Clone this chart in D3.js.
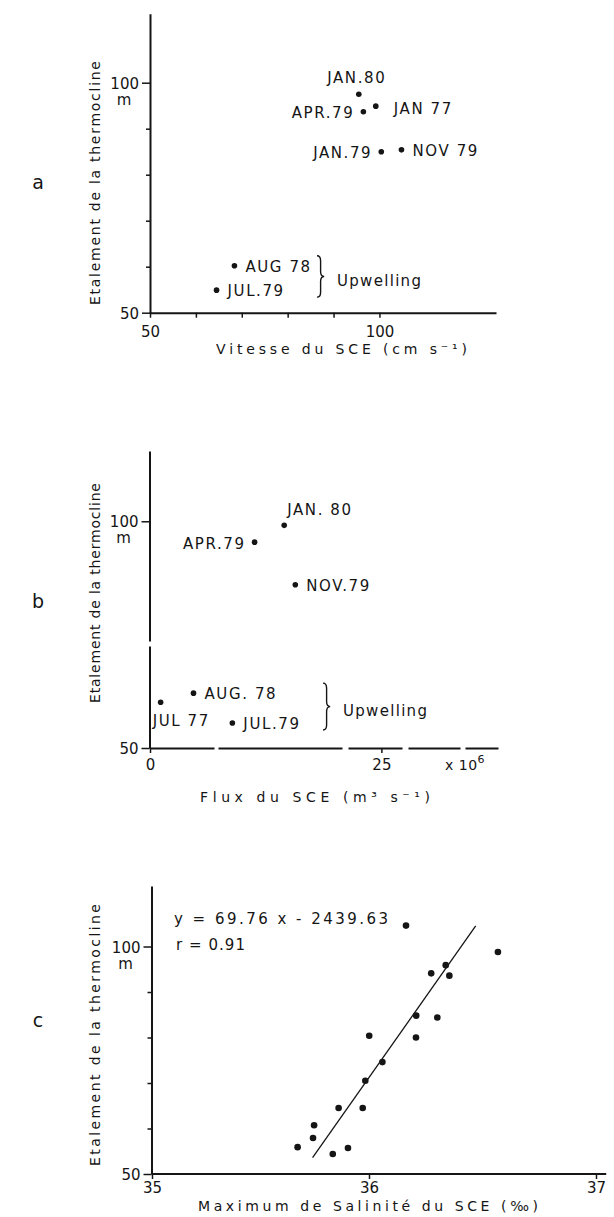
<!DOCTYPE html>
<html>
<head>
<meta charset="utf-8">
<script src="https://cdn.jsdelivr.net/npm/d3@7"></script>
<style>
  html, body { margin: 0; padding: 0; background: #fff; }
  svg { display: block; }
</style>
</head>
<body>
<svg id="fig" width="614" height="1217"></svg>
<script>
// ---- Panel a: thermocline spread against SCE current speed ----
const speedMonths    = ["JAN.80", "APR.79", "JAN 77", "JAN.79", "NOV 79", "AUG 78", "JUL.79"];
const speedValues    = [95.5, 96.5, 99.2, 100.4, 104.8, 68.4, 64.5];
const speedSpread    = [97.5, 93.7, 94.9, 85.0, 85.4, 60.2, 54.9];
const speedLabelSide = ["above", "left", "farright", "left", "right", "right", "right"];
const speedUpwelling = ["AUG 78", "JUL.79"];
const speedTicks      = [50, 60, 70, 80, 90, 100];
const speedTickLabels = [50, 100];

// ---- Panel b: thermocline spread against SCE transport ----
const fluxMonths    = ["JAN. 80", "APR.79", "NOV.79", "AUG. 78", "JUL 77", "JUL.79"];
const fluxValues    = [14.5, 11.3, 15.7, 4.7, 1.15, 8.9];
const fluxSpread    = [99.1, 95.4, 86.0, 62.1, 60.1, 55.5];
const fluxLabelSide = ["aboveright", "left", "right", "right", "below", "right"];
const fluxUpwelling = ["AUG. 78", "JUL 77", "JUL.79"];
const fluxTicks      = [0, 25];
const fluxTickLabels = [0, 25];

// ---- Panel c: thermocline spread against SCE salinity maximum ----
const salinityValues = [36.163, 36.568, 36.338, 36.274, 36.354, 36.208, 36.301, 36.001, 36.207,
                        36.059, 35.983, 35.860, 35.971, 35.747, 35.742, 35.671, 35.903, 35.833];
const salinitySpread = [104.6, 98.8, 95.9, 94.1, 93.6, 84.8, 84.4, 80.4, 80.0,
                        74.6, 70.5, 64.5, 64.5, 60.7, 57.9, 55.9, 55.7, 54.4];
const regressionSlope = 69.76;
const regressionIntercept = -2439.63;
const regressionR = 0.91;
const regressionRange = [35.74, 36.47];
const salinityTicks = [35, 36, 37];

// ---- shared y axis ----
const spreadMinorTicks = [60, 70, 80, 90];
const spreadMajorTicks = [50, 100];
const spreadTitle = "Etalement de la thermocline";

const FONT = '"DejaVu Sans", "Liberation Sans", sans-serif';
const INK = "#151515";
const svg = d3.select("#fig");

function styleTicks(sel) {
  sel.attr("font-family", FONT).attr("font-size", 15);
  sel.selectAll(".tick line").attr("stroke", INK).attr("stroke-width", 1.5);
  sel.selectAll(".tick text").attr("fill", INK);
}

function drawYAxis(g, y, axisX, withMinor, dash) {
  if (withMinor) {
    const m = g.append("g").attr("transform", `translate(${axisX},0)`)
      .call(d3.axisLeft(y).tickValues(spreadMinorTicks).tickSize(4).tickSizeOuter(0).tickFormat(""));
    m.select(".domain").remove();
    styleTicks(m);
  }
  const a = g.append("g").attr("transform", `translate(${axisX},0)`)
    .call(d3.axisLeft(y).tickValues(spreadMajorTicks).tickSize(8).tickSizeOuter(0).tickPadding(3)
      .tickFormat(d3.format("d")));
  a.select(".domain").attr("stroke", INK).attr("stroke-width", 2).attr("stroke-dasharray", dash || null);
  styleTicks(a);
  a.selectAll(".tick text").attr("dy", "0.38em");
  // unit under the 100 label
  g.append("text")
    .attr("x", axisX - 26).attr("y", y(100) + 22)
    .attr("text-anchor", "middle").attr("font-family", FONT).attr("font-size", 15)
    .attr("fill", INK).text("m");
}

function drawXAxis(g, x, axisY, ticks, labels, padding, dash, endValue) {
  const a = g.append("g").attr("transform", `translate(0,${axisY})`)
    .call(d3.axisBottom(x).tickValues(ticks).tickSize(5).tickSizeOuter(0).tickPadding(padding)
      .tickFormat(d => labels.includes(d) ? d : ""));
  const dom = a.select(".domain").attr("stroke", INK).attr("stroke-width", 2)
    .attr("stroke-dasharray", dash || null);
  if (endValue !== undefined) dom.attr("d", `M${x.range()[0]},0H${x(endValue)}`);
  styleTicks(a);
}

function yTitle(g, cx, cy, length) {
  g.append("text")
    .attr("transform", `translate(${cx},${cy}) rotate(-90)`)
    .attr("text-anchor", "middle")
    .attr("font-family", FONT).attr("font-size", 14).attr("fill", INK)
    .attr("textLength", length).attr("lengthAdjust", "spacing")
    .text(spreadTitle);
}

function xTitle(g, x0, baseline, length, label) {
  g.append("text")
    .attr("x", x0).attr("y", baseline)
    .attr("font-family", FONT).attr("font-size", 14).attr("fill", INK)
    .attr("textLength", length).attr("lengthAdjust", "spacing")
    .text(label);
}

function panelLetter(letter, baseline) {
  svg.append("text").attr("x", 38).attr("y", baseline).attr("text-anchor", "middle")
    .attr("font-family", FONT).attr("font-size", 19).attr("fill", INK).text(letter);
}

function placeLabel(side, px, py) {
  switch (side) {
    case "above":      return { x: px - 2,  y: py - 11.5, anchor: "middle" };
    case "aboveright": return { x: px + 3,  y: py - 10.5, anchor: "start" };
    case "below":      return { x: px - 8,  y: py + 24,   anchor: "start" };
    case "left":       return { x: px - 9,  y: py + 6.5,  anchor: "end" };
    case "farright":   return { x: px + 18, y: py + 7.5,  anchor: "start" };
    default:           return { x: px + 11, y: py + 6,    anchor: "start" };
  }
}

function drawPoints(g, x, y, xs, ys, r) {
  g.append("g").selectAll("circle")
    .data(xs.map((v, i) => [v, ys[i]]))
    .join("circle")
    .attr("cx", d => x(d[0])).attr("cy", d => y(d[1])).attr("r", r)
    .attr("fill", INK);
}

function drawLabels(g, x, y, xs, ys, names, sides) {
  names.forEach((name, i) => {
    const p = placeLabel(sides[i], x(xs[i]), y(ys[i]));
    g.append("text").attr("x", p.x).attr("y", p.y).attr("text-anchor", p.anchor)
      .attr("font-family", FONT).attr("font-size", 15).attr("letter-spacing", 1.6)
      .attr("fill", INK).text(name);
  });
}

// curly brace grouping the upwelling months, tip pointing right
function drawBrace(g, y, names, months, spread, bx) {
  const vals = names.map(n => spread[months.indexOf(n)]);
  const top = y(d3.max(vals)) - 10;
  const bot = y(d3.min(vals)) + 7;
  const mid = (top + bot) / 2;
  const w = 3.6, q = 5;
  const p = d3.path();
  p.moveTo(bx, top);
  p.quadraticCurveTo(bx + w, top, bx + w, top + q);
  p.lineTo(bx + w, mid - q);
  p.quadraticCurveTo(bx + w, mid, bx + 2 * w, mid);
  p.quadraticCurveTo(bx + w, mid, bx + w, mid + q);
  p.lineTo(bx + w, bot - q);
  p.quadraticCurveTo(bx + w, bot, bx, bot);
  g.append("path").attr("d", p.toString()).attr("fill", "none")
    .attr("stroke", INK).attr("stroke-width", 1.4);
  g.append("text").attr("x", bx + 20).attr("y", mid + 9.5)
    .attr("font-family", FONT).attr("font-size", 15).attr("letter-spacing", 1.3)
    .attr("fill", INK).text("Upwelling");
}

// ================= Panel a =================
{
  const g = svg.append("g");
  const x = d3.scaleLinear().domain([50, 125.4]).range([150, 496]);
  const y = d3.scaleLinear().domain([50, 115]).range([312.7, 13.7]);
  drawYAxis(g, y, 150, true);
  drawXAxis(g, x, 312.7, speedTicks, speedTickLabels, 9);
  drawPoints(g, x, y, speedValues, speedSpread, 2.8);
  drawLabels(g, x, y, speedValues, speedSpread, speedMonths, speedLabelSide);
  drawBrace(g, y, speedUpwelling, speedMonths, speedSpread, 317);
  xTitle(g, 216, 354, 251, "Vitesse du SCE (cm s\u207B\u00B9)");
  yTitle(g, 100, 183, 244);
  panelLetter("a", 189);
}

// ================= Panel b =================
{
  const g = svg.append("g");
  const x = d3.scaleLinear().domain([0, 37.6]).range([150, 498]);
  const y = d3.scaleLinear().domain([50, 115.5]).range([748, 451]);
  drawYAxis(g, y, 149.5, false, "102,5,400");
  drawXAxis(g, x, 748, fluxTicks, fluxTickLabels, 6.5, "64,4,124,6,54,6,52,5,40");
  drawPoints(g, x, y, fluxValues, fluxSpread, 2.8);
  drawLabels(g, x, y, fluxValues, fluxSpread, fluxMonths, fluxLabelSide);
  drawBrace(g, y, fluxUpwelling, fluxMonths, fluxSpread, 323);
  const mult = g.append("text").attr("x", 445).attr("y", 770)
    .attr("font-family", FONT).attr("font-size", 14).attr("letter-spacing", 0.5).attr("fill", INK);
  mult.append("tspan").text("x 10");
  mult.append("tspan").attr("font-size", 11).attr("dy", -7).text("6");
  xTitle(g, 200, 802, 230, "Flux du SCE (m\u00B3 s\u207B\u00B9)");
  yTitle(g, 100, 593, 220);
  panelLetter("b", 608);
}

// ================= Panel c =================
{
  const g = svg.append("g");
  const x = d3.scaleLinear().domain([35, 36, 37]).range([152, 369, 596]);
  const y = d3.scaleLinear().domain([50, 113.3]).range([1174, 886]);
  drawYAxis(g, y, 151.5, true);
  drawXAxis(g, x, 1174, salinityTicks, salinityTicks, 3.5, null, 37.045);

  const fit = d3.line().x(d => x(d)).y(d => y(regressionSlope * d + regressionIntercept));
  g.append("path").attr("d", fit(regressionRange)).attr("fill", "none")
    .attr("stroke", INK).attr("stroke-width", 1.3);

  drawPoints(g, x, y, salinityValues, salinitySpread, 3.3);

  g.append("text").attr("x", 174).attr("y", 924)
    .attr("font-family", FONT).attr("font-size", 15).attr("fill", INK)
    .attr("textLength", 214).attr("lengthAdjust", "spacing")
    .text(`y = ${regressionSlope} x - ${Math.abs(regressionIntercept)}`);
  g.append("text").attr("x", 176).attr("y", 950)
    .attr("font-family", FONT).attr("font-size", 15).attr("fill", INK)
    .attr("textLength", 69).attr("lengthAdjust", "spacing")
    .text(`r = ${regressionR}`);

  xTitle(g, 198, 1211, 340, "Maximum de Salinit\u00E9 du SCE (\u2030)");
  yTitle(g, 100, 1035, 262);
  panelLetter("c", 1027);
}
</script>
</body>
</html>
